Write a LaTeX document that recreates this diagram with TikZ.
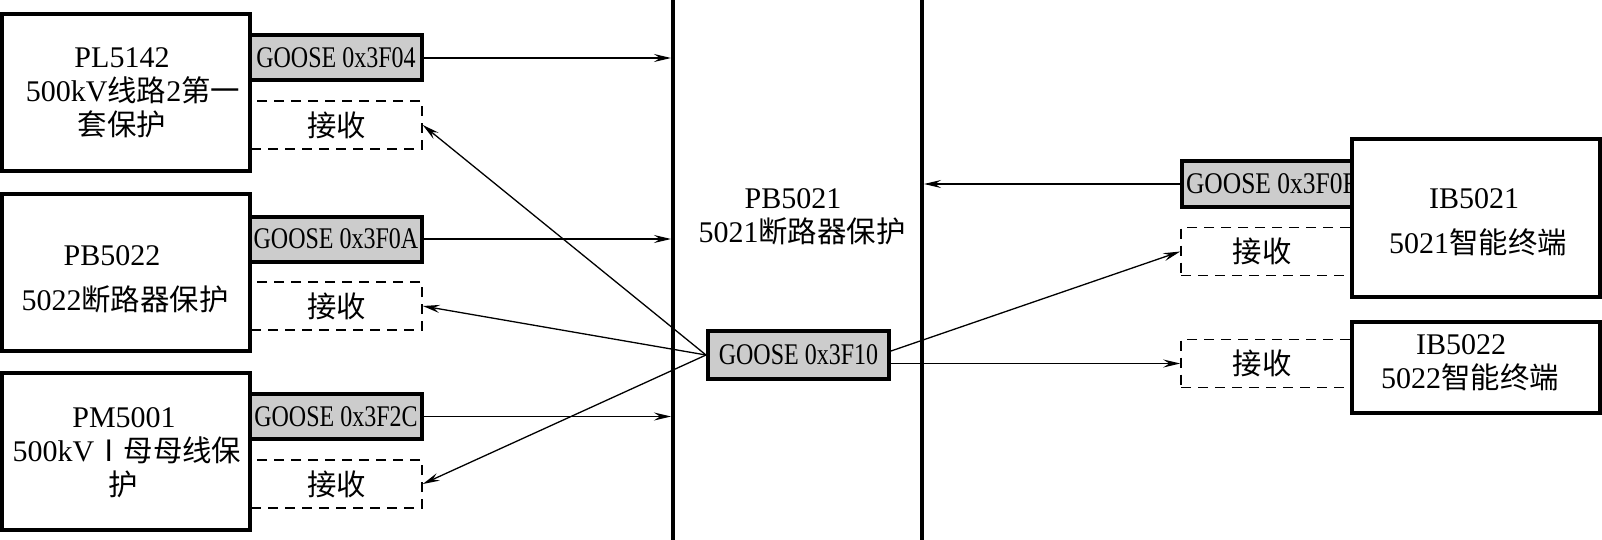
\documentclass[tikz,border=0pt]{standalone}
\usepackage{fontspec}
\usepackage{graphicx}
\setmainfont{Liberation Serif}
\newfontfamily\cjk{Noto Sans CJK SC}[Scale=0.98]
\usetikzlibrary{arrows.meta}
\newcommand\gtext[1]{\scalebox{0.8}[1]{#1}}
\tikzset{
  bigbox/.style={draw, line width=4pt, fill=white, inner sep=0pt, minimum width=248pt},
  goosebox/.style={draw, line width=4pt, fill=black!20, inner sep=0pt, minimum width=172pt, minimum height=45pt, font=\fontsize{30}{34}\selectfont},
  recvbox/.style={draw, line width=1.5pt, dash pattern=on 10pt off 7pt, inner sep=0pt, minimum width=171pt, minimum height=48pt, font=\fontsize{30}{34}\selectfont},
  bus/.style={line width=4pt},
  conn/.style={line width=1.3pt, -{Stealth[length=17pt,width=8pt,inset=6pt]}},
  txt/.style={align=center, inner sep=0pt, font=\fontsize{30}{34}\selectfont},
}
\begin{document}
\begin{tikzpicture}[x=1pt,y=-1pt]
\useasboundingbox[fill=white] (0,0) rectangle (1602,540);
% bus lines
\coordinate (b1) at (671,0);
\coordinate (b2) at (924,0);
\draw[bus] (673,0) -- (673,540);
\draw[bus] (922,0) -- (922,540);

% left side
\node[recvbox] (r1) at (336.5,125) {\cjk 接收};
\node[recvbox] (r2) at (336.5,306) {\cjk 接收};
\node[recvbox] (r3) at (336.5,484) {\cjk 接收};
\node[goosebox] (g04) at (336,58) {\gtext{GOOSE 0x3F04}};
\node[goosebox] (g0a) at (336,239) {\gtext{GOOSE 0x3F0A}};
\node[goosebox] (g2c) at (336,416.5) {\gtext{GOOSE 0x3F2C}};
\node[bigbox, minimum height=157pt] (pl) at (126,92.5) {};
\node[bigbox, minimum height=157pt] (pb2) at (126,272.5) {};
\node[bigbox, minimum height=157pt] (pm) at (126,451.5) {};
\node[txt] (plt) at (133,92.5) {PL5142\hspace*{22pt}\\500kV{\cjk 线路}2{\cjk 第一}\\{\cjk 套保护}\hspace*{22pt}};
\node[txt] (pb2t) at (125,279) {PB5022\hspace*{26pt}\\[11pt]5022{\cjk 断路器保护}};
\node[txt] (pmt) at (127,453) {PM5001\hspace*{6pt}\\500kV{\cjk Ⅰ母母线保}\\{\cjk 护}\hspace*{8pt}};

% middle
\node[txt] (pb1t) at (802,217) {PB5021\hspace*{18pt}\\5021{\cjk 断路器保护}};
\node[goosebox, minimum width=181pt, minimum height=48pt] (g10) at (798.5,355) {\gtext{GOOSE 0x3F10}};

% right side
\node[recvbox] (rr1) at (1266.5,251.5) {\cjk 接收\hspace*{9pt}};
\node[recvbox] (rr2) at (1266.5,363.5) {\cjk 接收\hspace*{9pt}};
\node[goosebox, minimum width=170pt, minimum height=46pt] (g0f) at (1267,184)
  {\makebox[170pt][l]{\hspace*{4pt}\scalebox{0.85}[1]{GOOSE 0x3F0F}}};
\node[bigbox, minimum height=158pt] (ib1) at (1476,218) {};
\node[bigbox, minimum height=91pt] (ib2) at (1476,367.5) {};
\node[txt] (ib1t) at (1478,222) {IB5021\hspace*{8pt}\\[11pt]5021{\cjk 智能终端}};
\node[txt] (ib2t) at (1470,362.5) {IB5022\hspace*{18pt}\\5022{\cjk 智能终端}};

% connectors
\draw[conn] (g04.east) -- (g04.east -| b1);
\draw[conn] (g0a.east) -- (g0a.east -| b1);
\draw[conn] (g2c.east) -- (g2c.east -| b1);
\draw[conn] (g10.west) -- (r1.east);
\draw[conn] (g10.west) -- (r2.east);
\draw[conn] (g10.west) -- (r3.east);
\draw[conn] (g0f.west) -- (g0f.west -| b2);
\draw[conn] ([yshift=4pt]g10.east) -- (rr1.west);
\draw[conn] (g10.east |- rr2.west) -- (rr2.west);
\end{tikzpicture}
\end{document}
